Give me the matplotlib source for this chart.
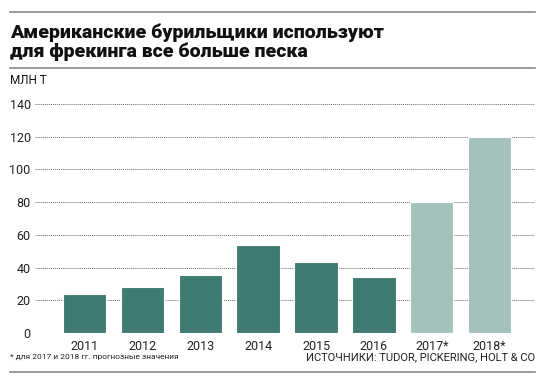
import matplotlib

matplotlib.use("Agg")
import matplotlib.pyplot as plt
from matplotlib.lines import Line2D

years = ["2011", "2012", "2013", "2014", "2015", "2016", "2017*", "2018*"]
sand_mt = [24, 28, 35.5, 54, 43.5, 34, 80, 120]
is_forecast = [False, False, False, False, False, False, True, True]
y_ticks = [0, 20, 40, 60, 80, 100, 120, 140]

title = "Американские бурильщики используют\nдля фрекинга все больше песка"
unit = "МЛН Т"
note = "* для 2017 и 2018 гг. прогнозные значения"
source = "ИСТОЧНИКИ: TUDOR, PICKERING, HOLT & CO"

DARK = "#3f7b72"
LIGHT = "#a4c2bb"
RULE = "#8a8a8a"

plt.rcParams["font.family"] = ["Roboto", "DejaVu Sans"]

fig = plt.figure(figsize=(5.44, 3.8), dpi=100)
ax = fig.add_axes([0.064, 0.1237, 0.919, 0.6026])

colors = [LIGHT if f else DARK for f in is_forecast]
x = range(len(years))
ax.bar(x, sand_mt, width=0.75, color=colors, edgecolor="white", linewidth=0.8, zorder=2)

ax.set_xlim(-0.86, 7.78)
ax.set_ylim(0, 140)
ax.set_yticks(y_ticks)
ax.set_xticks(list(x))
ax.set_xticklabels(years)
ax.yaxis.grid(True, linestyle=(0, (1, 1)), color="#666666", linewidth=0.7, zorder=1)
ax.tick_params(axis="both", length=0, labelsize=9, colors="#222222")
ax.tick_params(axis="y", pad=3)
ax.tick_params(axis="x", pad=5)
for s in ax.spines.values():
    s.set_visible(False)

# header / footer rules
for yy in (1 - 12 / 380, 1 - 68 / 380, 1 - 372 / 380):
    fig.add_artist(Line2D([10 / 544, 535 / 544], [yy, yy], color=RULE, linewidth=1.2))

fig.text(10 / 544, 1 - 42 / 380, title, fontsize=14, fontweight=900,
         va="center", ha="left", linespacing=1.05, color="#111111")
fig.text(10 / 544, 1 - 80 / 380, unit, fontsize=8.5, va="center", ha="left", color="#111111")
fig.text(10 / 544, 1 - 357 / 380, note, fontsize=6, va="center", ha="left", color="#222222")
fig.text(535 / 544, 1 - 357 / 380, source, fontsize=8, va="center", ha="right", color="#222222")

fig.savefig("out.png", dpi=100)
